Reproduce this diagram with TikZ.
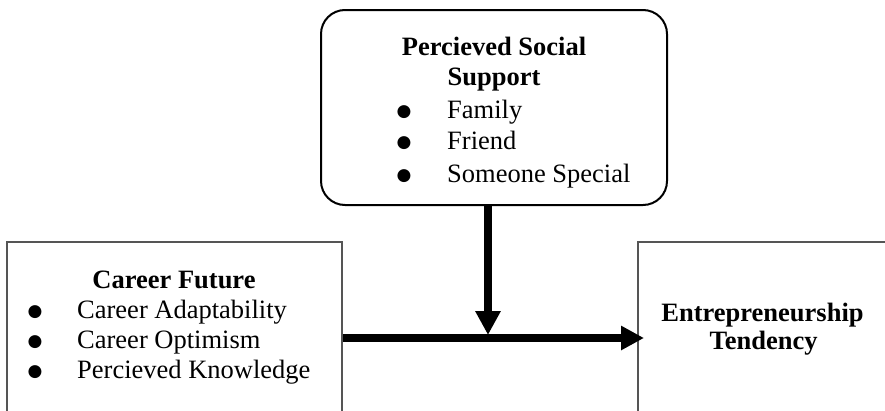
\documentclass[tikz,border=0pt]{standalone}
\usepackage{fontspec}
\setmainfont{Liberation Serif}
\newfontfamily\bulletfont{DejaVu Sans}
\usetikzlibrary{arrows.meta}
\definecolor{boxgray}{RGB}{85,85,85}
\begin{document}
\begin{tikzpicture}[x=1pt,y=-1pt,
  boxframe/.style={draw=boxgray, line width=2pt, inner sep=0pt},
  roundframe/.style={draw=black, line width=2pt, rounded corners=24pt, inner sep=0pt},
  headtext/.style={font=\fontsize{26.5}{30}\selectfont\bfseries, inner sep=0pt, anchor=base},
  itemtext/.style={font=\fontsize{26.5}{30}\selectfont, inner sep=0pt, anchor=base west},
  bul/.style={font=\bulletfont\fontsize{17}{17}\selectfont, inner sep=0pt, anchor=center},
  bigarrow/.style={line width=8pt, -{Triangle[width=24pt,length=24pt]}}
]
\useasboundingbox (0,0) rectangle (885,410);
\clip (0,0) rectangle (885,410);

% frames
\node[roundframe, minimum width=346pt, minimum height=195pt] (pss) at (494,107.5) {};
\node[boxframe, minimum width=335pt, minimum height=240pt] (cf) at (174.5,362) {};
\node[boxframe, minimum width=260pt, minimum height=240pt] (et) at (768,362) {};

% top box text
\node[headtext] (pssh1) at (494,55) {Percieved Social};
\node[headtext] (pssh2) at (494,85) {Support};
\node[bul] (pb1) at (404,112) {●};
\node[bul] (pb2) at (404,143) {●};
\node[bul] (pb3) at (404,176) {●};
\node[itemtext] (pi1) at (447,118) {Family};
\node[itemtext] (pi2) at (447,149) {Friend};
\node[itemtext] (pi3) at (447,182) {Someone Special};

% left box text
\node[headtext] (cfh) at (174,288) {Career Future};
\node[bul] (cb1) at (35,312) {●};
\node[bul] (cb2) at (35,342) {●};
\node[bul] (cb3) at (35,372) {●};
\node[itemtext] (ci1) at (77,318) {Career Adaptability};
\node[itemtext] (ci2) at (77,348) {Career Optimism};
\node[itemtext] (ci3) at (77,378) {Percieved Knowledge};

% right box text
\node[headtext] (eth1) at (762.5,321) {Entrepreneurship};
\node[headtext] (eth2) at (763.5,349) {Tendency};

% connectors
\coordinate (junction) at (488,338);
\draw[bigarrow, -{Triangle[width=23pt,length=23pt]}] (cf.east |- junction) -- ([xshift=7pt]et.west |- junction);
\draw[bigarrow] (pss.south -| junction) -- ([yshift=3pt]junction);
\end{tikzpicture}
\end{document}
